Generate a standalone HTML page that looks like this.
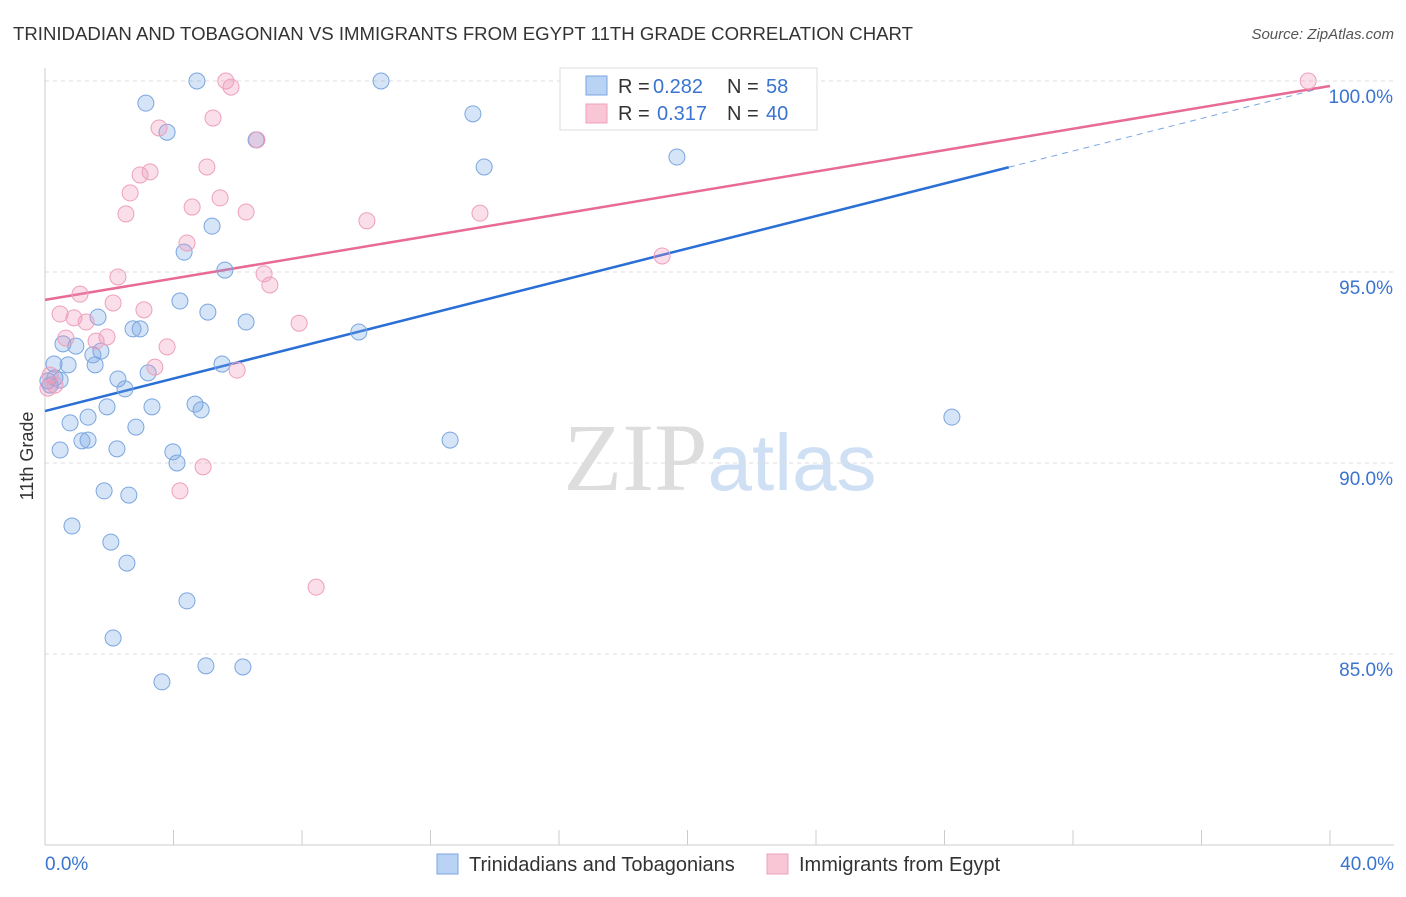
<!DOCTYPE html>
<html><head><meta charset="utf-8"><style>
body{margin:0;background:#fff;font-family:"Liberation Sans",sans-serif;}
svg text{font-family:"Liberation Sans",sans-serif;}
</style></head><body>
<svg id="chart" width="1406" height="892" xmlns="http://www.w3.org/2000/svg">
<text x="13" y="40" font-size="18" fill="#333" textLength="900" lengthAdjust="spacingAndGlyphs">TRINIDADIAN AND TOBAGONIAN VS IMMIGRANTS FROM EGYPT 11TH GRADE CORRELATION CHART</text>
<text x="1394" y="39" font-size="15" fill="#555" font-style="italic" text-anchor="end">Source: ZipAtlas.com</text>
<text transform="translate(33,456) rotate(-90)" font-size="18" fill="#333" text-anchor="middle">11th Grade</text>
<text x="720" y="490" font-size="96" text-anchor="middle"><tspan fill="#ddd" font-family="Liberation Serif">ZIP</tspan><tspan fill="#cfe0f4" font-size="80">atlas</tspan></text>
<g id="grid"></g><g id="axes"></g><g id="trend"></g><g id="pts"></g>
<g>
<rect x="560" y="68" width="257" height="62" fill="#fff" stroke="#ddd"/>
<rect x="586" y="76" width="21" height="19" fill="#b9d3f5" stroke="#7aa6e0"/>
<text y="93" font-size="20" fill="#333"><tspan x="618">R =</tspan><tspan x="653" fill="#3a74d0">0.282</tspan><tspan x="727">N =</tspan><tspan x="766" fill="#3a74d0">58</tspan></text>
<rect x="586" y="104" width="21" height="19" fill="#f9c6d6" stroke="#eea0bb"/>
<text y="120" font-size="20" fill="#333"><tspan x="618">R =</tspan><tspan x="657" fill="#3a74d0">0.317</tspan><tspan x="727">N =</tspan><tspan x="766" fill="#3a74d0">40</tspan></text>
</g>
<g>
<rect x="437" y="854" width="21" height="20" fill="#b9d3f5" stroke="#7aa6e0"/>
<text x="469" y="871" font-size="20" fill="#333">Trinidadians and Tobagonians</text>
<rect x="767" y="854" width="21" height="20" fill="#f9c6d6" stroke="#eea0bb"/>
<text x="799" y="871" font-size="20" fill="#333">Immigrants from Egypt</text>
</g>
</svg>
<script>
const blueX=[4.73,10.46,3.14,3.80,13.32,6.57,13.67,19.67,5.20,4.33,5.60,4.20,5.07,6.26,1.65,2.74,2.96,9.77,0.56,0.96,1.49,1.74,0.28,0.72,1.56,5.51,3.21,2.27,0.09,0.31,2.49,1.93,3.33,4.67,4.86,1.34,0.78,2.83,1.15,1.34,0.47,2.24,3.98,4.11,12.61,28.23,1.84,2.61,0.84,2.05,2.55,4.42,2.12,5.01,6.16,3.64,0.16,0.47];
const blueY=[100.0,100.0,99.42,98.66,99.14,98.46,97.75,98.01,96.20,95.52,95.05,94.24,93.95,93.69,93.82,93.51,93.51,93.43,93.12,93.06,92.83,92.93,92.59,92.57,92.57,92.59,92.36,92.20,92.15,92.23,91.94,91.47,91.47,91.54,91.39,91.20,91.05,90.94,90.58,90.60,90.34,90.37,90.29,90.00,90.60,91.20,89.27,89.16,88.35,87.93,87.38,86.39,85.42,84.69,84.66,84.27,92.04,92.17];
const pinkX=[39.32,5.63,5.79,5.23,3.55,6.60,5.04,3.27,2.96,2.65,5.45,4.58,2.52,6.26,10.02,13.54,4.42,19.21,2.27,6.82,7.00,1.09,2.12,3.08,0.47,0.90,1.28,7.91,0.65,1.93,1.59,3.80,3.42,5.98,0.16,0.31,0.09,4.92,4.20,8.44];
const pinkY=[100.0,100.0,99.84,99.03,98.77,98.46,97.75,97.62,97.54,97.07,96.94,96.70,96.52,96.57,96.34,96.54,95.76,95.42,94.87,94.95,94.66,94.42,94.19,94.01,93.90,93.80,93.69,93.66,93.27,93.30,93.19,93.04,92.51,92.43,92.30,92.04,91.96,89.90,89.27,86.75];
const blueTrend=[91.36,99.87];
const pinkTrend=[94.27,99.87];
const yTicks=[100,95,90,85];
const yTickLabels=["100.0%","95.0%","90.0%","85.0%"];
const xTickLabels=["0.0%","40.0%"];
const NS="http://www.w3.org/2000/svg";
const X=v=>45+v/40*1285, Y=v=>81+(100-v)*38.2;
function mk(p,t,a){const e=document.createElementNS(NS,t);for(const k in a)e.setAttribute(k,a[k]);document.getElementById(p).appendChild(e);return e;}
yTicks.forEach((t,i)=>{
 const g=mk('grid','line',{x1:45,x2:1394,y1:Y(t),y2:Y(t),stroke:'#ddd','stroke-dasharray':'4,4'});
 
 
 const l=mk('grid','text',{x:1393,y:Y(t)+22,'font-size':19,fill:'#3a74d0','text-anchor':'end'});
 l.textContent=yTickLabels[i];
 
 
});
const ax=mk('axes','line',{x1:45,x2:45,y1:68,y2:845,stroke:'#ccc'});


const bx=mk('axes','line',{x1:45,x2:1394,y1:845,y2:845,stroke:'#ccc'});


for(let k=0;k<=10;k++){const t=mk('axes','line',{x1:X(k*4),x2:X(k*4),y1:830,y2:845,stroke:'#ccc'});
 
 }
[[0,'start',45],[40,'end',1394]].forEach((d,i)=>{const l=mk('axes','text',{x:d[2],y:870,'font-size':19,fill:'#3a74d0','text-anchor':d[1]});l.textContent=xTickLabels[i];
 
 });
function pts(xs,ys,fill,stroke,name){xs.forEach((x,i)=>{const c=mk('pts','circle',{cx:X(x),cy:Y(ys[i]),r:8,fill:fill,stroke:stroke,'stroke-width':1});
 
 });}
pts(blueX,blueY,'rgba(120,165,230,0.3)','#7aa6e0','blue-point');
pts(pinkX,pinkY,'rgba(240,150,185,0.3)','#eea0bb','pink-point');
const bAt=x=>blueTrend[0]+(blueTrend[1]-blueTrend[0])*x/40;
const b1=mk('trend','line',{x1:X(0),y1:Y(bAt(0)),x2:X(30),y2:Y(bAt(30)),stroke:'#2a6fd6','stroke-width':2.5});


const b2=mk('trend','line',{x1:X(30),y1:Y(bAt(30)),x2:X(40),y2:Y(bAt(40)),stroke:'#7aa6e0','stroke-width':1,'stroke-dasharray':'6,5'});


const p1=mk('trend','line',{x1:X(0),y1:Y(pinkTrend[0]),x2:X(40),y2:Y(pinkTrend[1]),stroke:'#e86b95','stroke-width':2.5});


</script>
</body></html>
